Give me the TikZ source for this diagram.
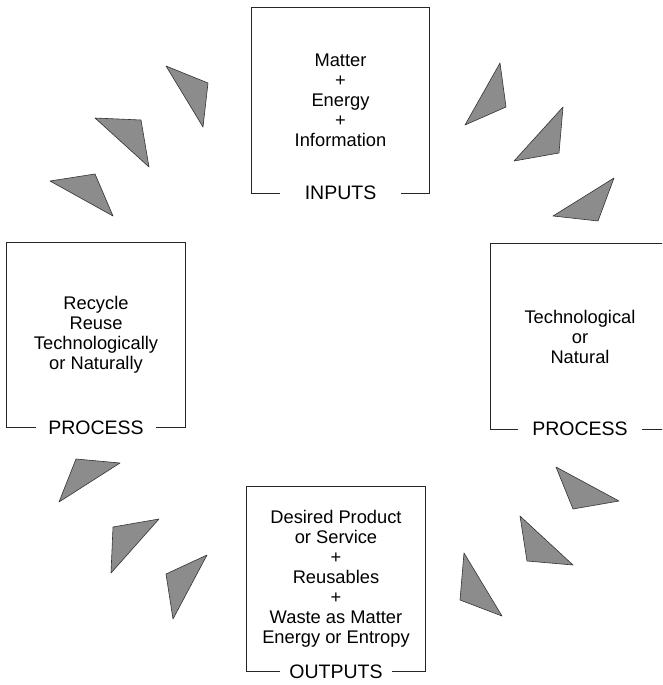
\documentclass[tikz,border=0pt]{standalone}
\usepackage{fontspec}
\setmainfont{Liberation Sans}
\begin{document}
\begin{tikzpicture}[x=1pt,y=-1pt]
\tikzset{
  frame/.style={minimum width=178pt, minimum height=185pt, inner sep=0pt, align=center,
    font=\fontsize{18.3}{20}\selectfont},
  tag/.style={inner xsep=12pt, inner ysep=0pt, font=\fontsize{19.5}{20}\selectfont},
  side/.style={draw=black!85, line width=0.8pt},
  wedge/.style={fill=black!45, draw=black!80, line width=0.6pt, line join=round}
}
\clip (0, 0) rectangle (662, 685);
% the four boxes
\node[frame] (inputs) at (340.5, 100.5) {Matter\\+\\Energy\\+\\Information};
\node[frame] (recycle) at (96, 335) {Recycle\\Reuse\\Technologically\\or Naturally};
\node[frame] (convert) at (580, 336.5) {Technological\\or\\Natural};
\node[frame] (outputs) at (336, 579) {Desired Product\\or Service\\+\\Reusables\\+\\Waste as Matter\\Energy or Entropy};
\node[tag, inner xsep=25pt] (intag) at (inputs.south) {INPUTS};
\node[tag] (retag) at (recycle.south) {PROCESS};
\node[tag, inner xsep=14pt] (cotag) at (convert.south) {PROCESS};
\node[tag, inner xsep=9pt] (outag) at (outputs.south) {OUTPUTS};
\draw[side] (intag.west) -- (inputs.south west) -- (inputs.north west) -- (inputs.north east) -- (inputs.south east) -- (intag.east);
\draw[side] (retag.west) -- (recycle.south west) -- (recycle.north west) -- (recycle.north east) -- (recycle.south east) -- (retag.east);
\draw[side] (cotag.west) -- (convert.south west) -- (convert.north west) -- (convert.north east) -- (convert.south east) -- (cotag.east);
\draw[side] (outag.west) -- (outputs.south west) -- (outputs.north west) -- (outputs.north east) -- (outputs.south east) -- (outag.east);
% wedges between the boxes
\filldraw[wedge] (166, 66) -- (208, 83) -- (203, 127) -- cycle;
\filldraw[wedge] (95, 118) -- (141, 120) -- (149, 167) -- cycle;
\filldraw[wedge] (50, 181) -- (95, 174) -- (113, 216) -- cycle;
\filldraw[wedge] (500, 63) -- (506, 107) -- (465, 125) -- cycle;
\filldraw[wedge] (563, 107) -- (559, 153) -- (514, 161) -- cycle;
\filldraw[wedge] (614, 178) -- (598, 221) -- (553, 216) -- cycle;
\filldraw[wedge] (76, 459) -- (120, 463) -- (59, 502) -- cycle;
\filldraw[wedge] (113, 527) -- (159, 519) -- (111, 573) -- cycle;
\filldraw[wedge] (166, 574) -- (207, 555) -- (173, 619) -- cycle;
\filldraw[wedge] (556, 467) -- (619, 501) -- (573, 509) -- cycle;
\filldraw[wedge] (520, 516) -- (573, 565) -- (527, 561) -- cycle;
\filldraw[wedge] (464, 553) -- (502, 616) -- (460, 600) -- cycle;
\end{tikzpicture}
\end{document}
